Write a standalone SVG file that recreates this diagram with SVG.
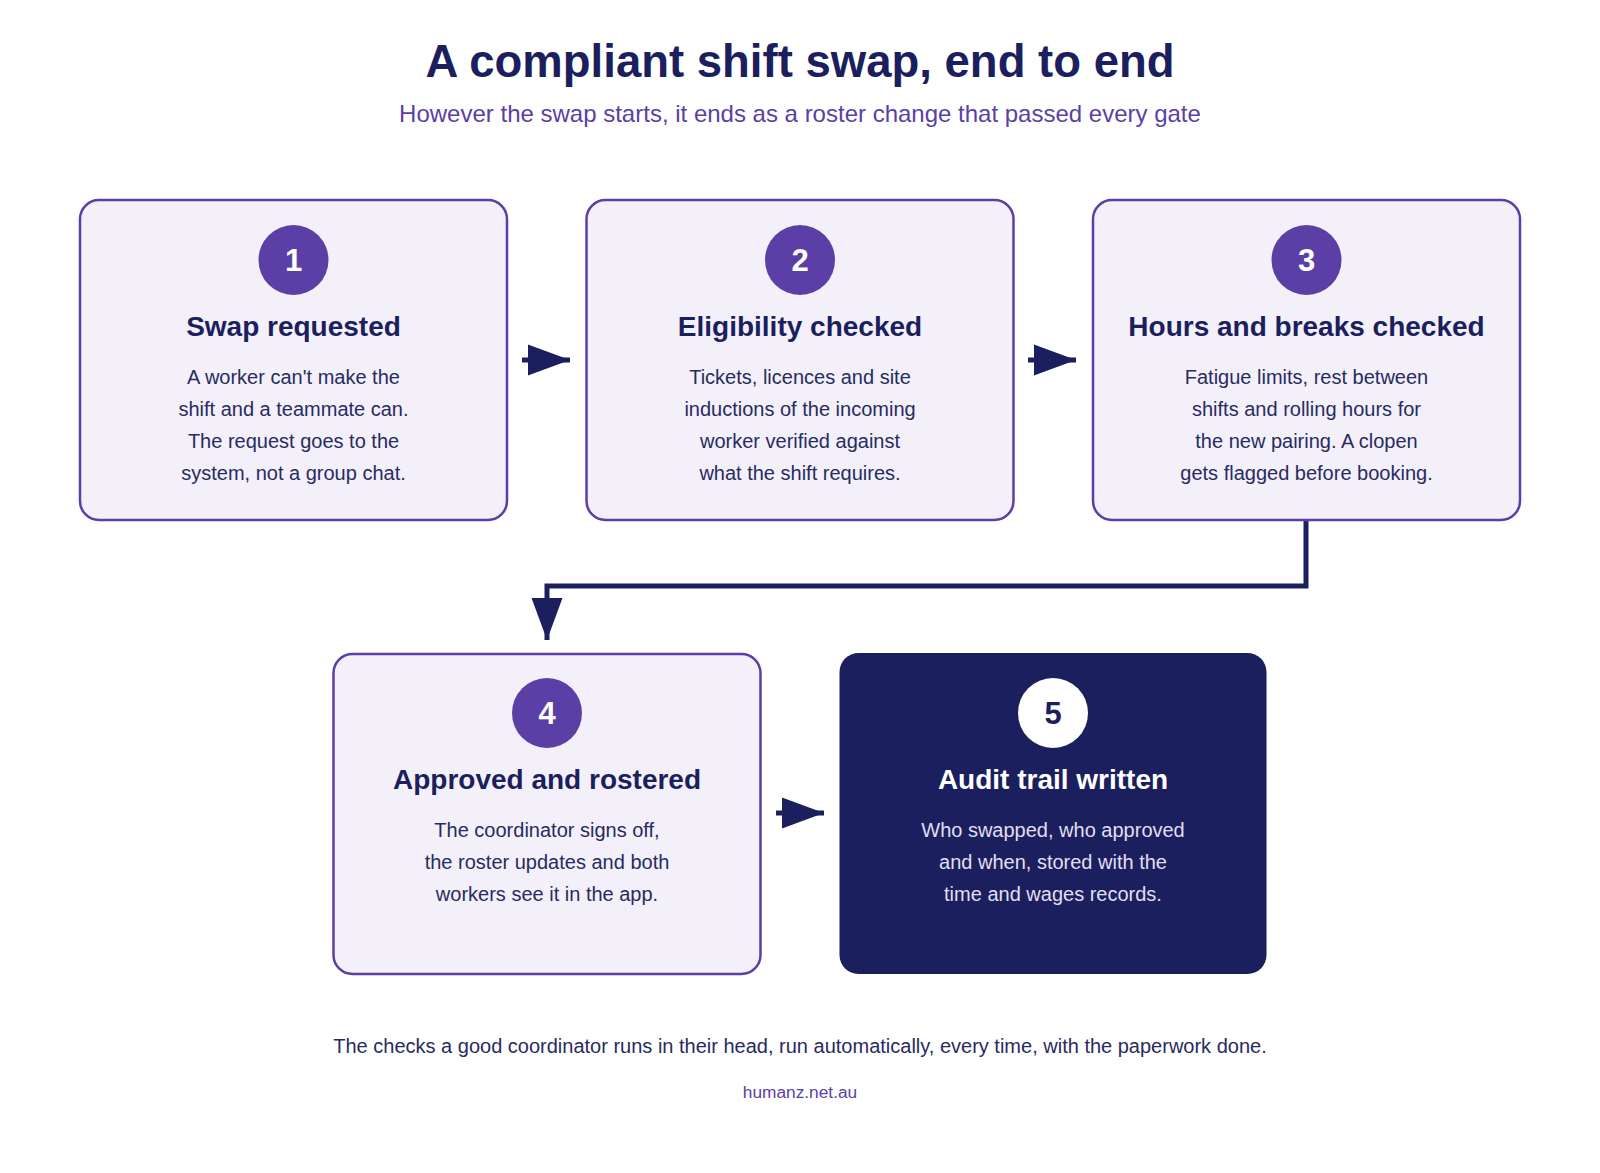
<svg xmlns="http://www.w3.org/2000/svg" width="1600" height="1173" viewBox="0 0 1600 1173">
<style>
.box{fill:#f3f0f9;stroke:#5b3fa6;stroke-width:2.5}
.dark{fill:#1c1f5e}
.num{fill:#5b3fa6}
.numt{font-family:"Liberation Sans",Arial,sans-serif;font-weight:bold;font-size:31px;fill:#ffffff;text-anchor:middle}
.ttl{font-family:"Liberation Sans",Arial,sans-serif;font-weight:bold;font-size:28px;fill:#1c1f5e;text-anchor:middle}
.body{font-family:"Liberation Sans",Arial,sans-serif;font-size:20px;fill:#282b62;text-anchor:middle}
.conn{fill:none;stroke:#1c1f5e;stroke-width:5}
</style>
<defs>
<marker id="ah" markerUnits="userSpaceOnUse" markerWidth="44" markerHeight="34" refX="42" refY="16" orient="auto">
<path d="M0 0.5 L42 16 L0 31.5 Z" fill="#1c1f5e"/>
</marker>
</defs>
<rect width="1600" height="1173" fill="#ffffff"/>
<text x="800" y="77" font-family="Liberation Sans,Arial,sans-serif" font-weight="bold" font-size="45.5" fill="#1c1f5e" text-anchor="middle">A compliant shift swap, end to end</text>
<text x="800" y="122" font-family="Liberation Sans,Arial,sans-serif" font-size="24" fill="#5b3fa6" text-anchor="middle">However the swap starts, it ends as a roster change that passed every gate</text>

<g id="connectors">
<path class="conn" d="M522 360 H570" marker-end="url(#ah)"/>
<path class="conn" d="M1028 360 H1076" marker-end="url(#ah)"/>
<path class="conn" d="M1306 520 V586 H547 V640" marker-end="url(#ah)"/>
<path class="conn" d="M776 813 H824" marker-end="url(#ah)"/>
</g>

<g id="node1">
<rect class="box" x="80" y="200" width="427" height="320" rx="19"/>
<circle class="num" cx="293.5" cy="260" r="35"/>
<text class="numt" x="293.5" y="271">1</text>
<text class="ttl" x="293.5" y="336">Swap requested</text>
<text class="body" x="293.5" y="384">A worker can't make the</text>
<text class="body" x="293.5" y="416">shift and a teammate can.</text>
<text class="body" x="293.5" y="448">The request goes to the</text>
<text class="body" x="293.5" y="480">system, not a group chat.</text>
</g>

<g id="node2">
<rect class="box" x="586.5" y="200" width="427" height="320" rx="19"/>
<circle class="num" cx="800" cy="260" r="35"/>
<text class="numt" x="800" y="271">2</text>
<text class="ttl" x="800" y="336">Eligibility checked</text>
<text class="body" x="800" y="384">Tickets, licences and site</text>
<text class="body" x="800" y="416">inductions of the incoming</text>
<text class="body" x="800" y="448">worker verified against</text>
<text class="body" x="800" y="480">what the shift requires.</text>
</g>

<g id="node3">
<rect class="box" x="1093" y="200" width="427" height="320" rx="19"/>
<circle class="num" cx="1306.5" cy="260" r="35"/>
<text class="numt" x="1306.5" y="271">3</text>
<text class="ttl" x="1306.5" y="336">Hours and breaks checked</text>
<text class="body" x="1306.5" y="384">Fatigue limits, rest between</text>
<text class="body" x="1306.5" y="416">shifts and rolling hours for</text>
<text class="body" x="1306.5" y="448">the new pairing. A clopen</text>
<text class="body" x="1306.5" y="480">gets flagged before booking.</text>
</g>

<g id="node4">
<rect class="box" x="333.5" y="654" width="427" height="320" rx="19"/>
<circle class="num" cx="547" cy="713" r="35"/>
<text class="numt" x="547" y="724">4</text>
<text class="ttl" x="547" y="788.5">Approved and rostered</text>
<text class="body" x="547" y="837">The coordinator signs off,</text>
<text class="body" x="547" y="869">the roster updates and both</text>
<text class="body" x="547" y="901">workers see it in the app.</text>
</g>

<g id="node5">
<rect class="dark" x="839.5" y="653" width="427" height="321" rx="19"/>
<circle cx="1053" cy="713" r="35" fill="#ffffff"/>
<text class="numt" x="1053" y="724" style="fill:#1c1f5e">5</text>
<text class="ttl" x="1053" y="788.5" style="fill:#ffffff">Audit trail written</text>
<text class="body" x="1053" y="837" style="fill:#e2def2">Who swapped, who approved</text>
<text class="body" x="1053" y="869" style="fill:#e2def2">and when, stored with the</text>
<text class="body" x="1053" y="901" style="fill:#e2def2">time and wages records.</text>
</g>

<text x="800" y="1053" font-family="Liberation Sans,Arial,sans-serif" font-size="20" fill="#282b62" text-anchor="middle">The checks a good coordinator runs in their head, run automatically, every time, with the paperwork done.</text>
<text x="800" y="1098" font-family="Liberation Sans,Arial,sans-serif" font-size="17.3" fill="#5b3fa6" text-anchor="middle">humanz.net.au</text>
</svg>
